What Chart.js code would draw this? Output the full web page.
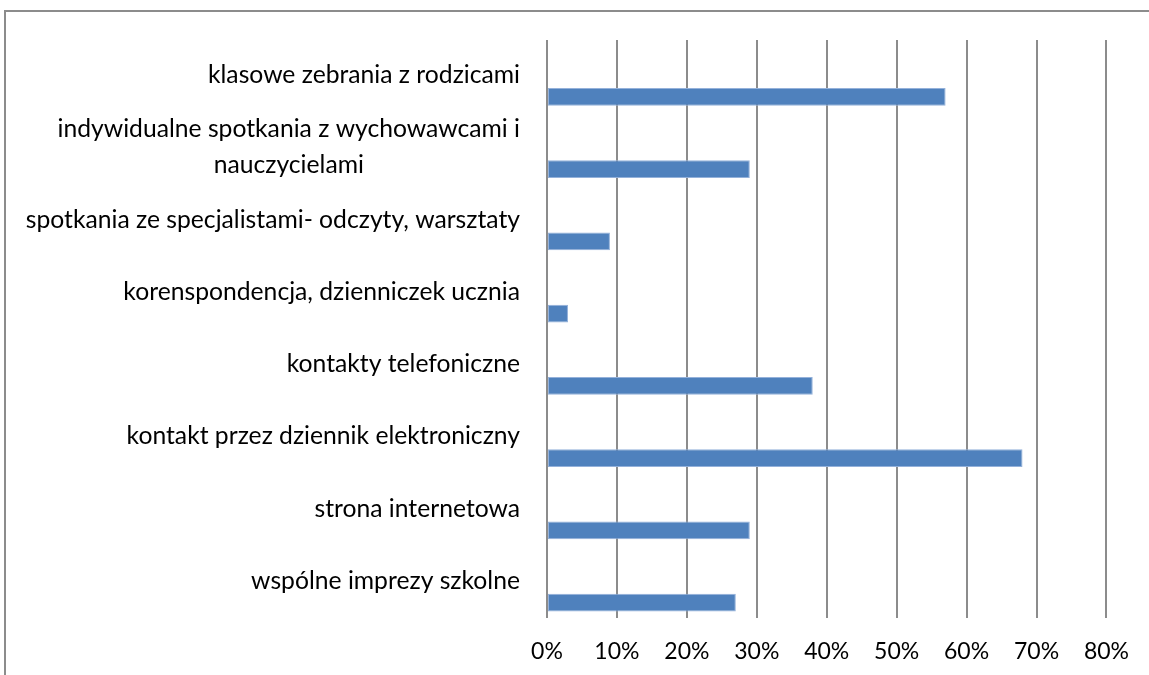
<!DOCTYPE html>
<html>
<head>
<meta charset="utf-8">
<script src="https://cdn.jsdelivr.net/npm/chart.js@4"></script>
<style>
  html, body { margin: 0; padding: 0; background: #fff; }
  #wrap { position: relative; width: 1149px; height: 675px; overflow: hidden; }
  #frame {
    position: absolute; left: 4px; top: 10px; width: 1200px; height: 700px;
    border-left: 2px solid #8c8c8c; border-top: 2px solid #8c8c8c;
  }
  canvas { position: absolute; left: 0; top: 0; }
</style>
</head>
<body>
<div id="wrap">
  <div id="frame"></div>
  <canvas id="chart" width="1149" height="675"></canvas>
</div>
<script>
// categories, top to bottom
const categories = [
  'klasowe zebrania z rodzicami',
  ['indywidualne spotkania z wychowawcami i', 'nauczycielami'],
  'spotkania ze specjalistami- odczyty, warsztaty',
  'korenspondencja, dzienniczek ucznia',
  'kontakty telefoniczne',
  'kontakt przez dziennik elektroniczny',
  'strona internetowa',
  'wspólne imprezy szkolne'
];
// percentages
const values = [57, 29, 9, 3, 38, 68, 29, 27];
const xTicks = [0, 10, 20, 30, 40, 50, 60, 70, 80];

const labelFont = '24.7px Lato';

// draws the category labels above the bars, multi-line labels centred on each other
const categoryLabels = {
  id: 'categoryLabels',
  afterDraw(chart) {
    const ctx = chart.ctx;
    const y = chart.scales.y;
    const right = chart.chartArea.left - 27;
    ctx.save();
    ctx.font = labelFont;
    ctx.fillStyle = '#000';
    ctx.textBaseline = 'middle';
    categories.forEach((lab, i) => {
      const cy = y.getPixelForValue(i);
      const lines = Array.isArray(lab) ? lab : [lab];
      const maxW = Math.max(...lines.map(l => ctx.measureText(l).width));
      const lh = 36;
      const startY = cy - (lines.length - 1) * lh / 2 - 1;
      ctx.textAlign = 'center';
      lines.forEach((l, k) => {
        ctx.fillText(l, right - maxW / 2, startY + k * lh);
      });
    });
    ctx.restore();
  }
};

new Chart(document.getElementById('chart'), {
  type: 'bar',
  data: {
    labels: categories,
    datasets: [
      { data: categories.map(() => null) },
      { data: categories.map(() => null) },
      {
        data: values,
        backgroundColor: '#4f81bd',
        borderColor: '#94b1da',
        borderWidth: 1,
        borderSkipped: false
      }
    ]
  },
  options: {
    indexAxis: 'y',
    responsive: false,
    animation: false,
    categoryPercentage: 0.8625,
    barPercentage: 0.85,
    layout: { padding: { left: 547, right: 38, top: 40, bottom: 9 } },
    plugins: { legend: { display: false }, tooltip: { enabled: false } },
    scales: {
      x: {
        min: 0,
        max: 80,
        afterBuildTicks: (s) => { s.ticks = xTicks.map(v => ({ value: v })); },
        afterFit: (s) => { s.height = 48; },
        ticks: {
          callback: (v) => v + '%',
          color: '#000',
          font: { family: 'Lato', size: 23 },
          padding: 20,
          maxRotation: 0
        },
        grid: { color: '#8c8c8c', lineWidth: 2, drawTicks: false },
        border: { display: false }
      },
      y: {
        display: false
      }
    }
  },
  plugins: [categoryLabels]
});
</script>
</body>
</html>
